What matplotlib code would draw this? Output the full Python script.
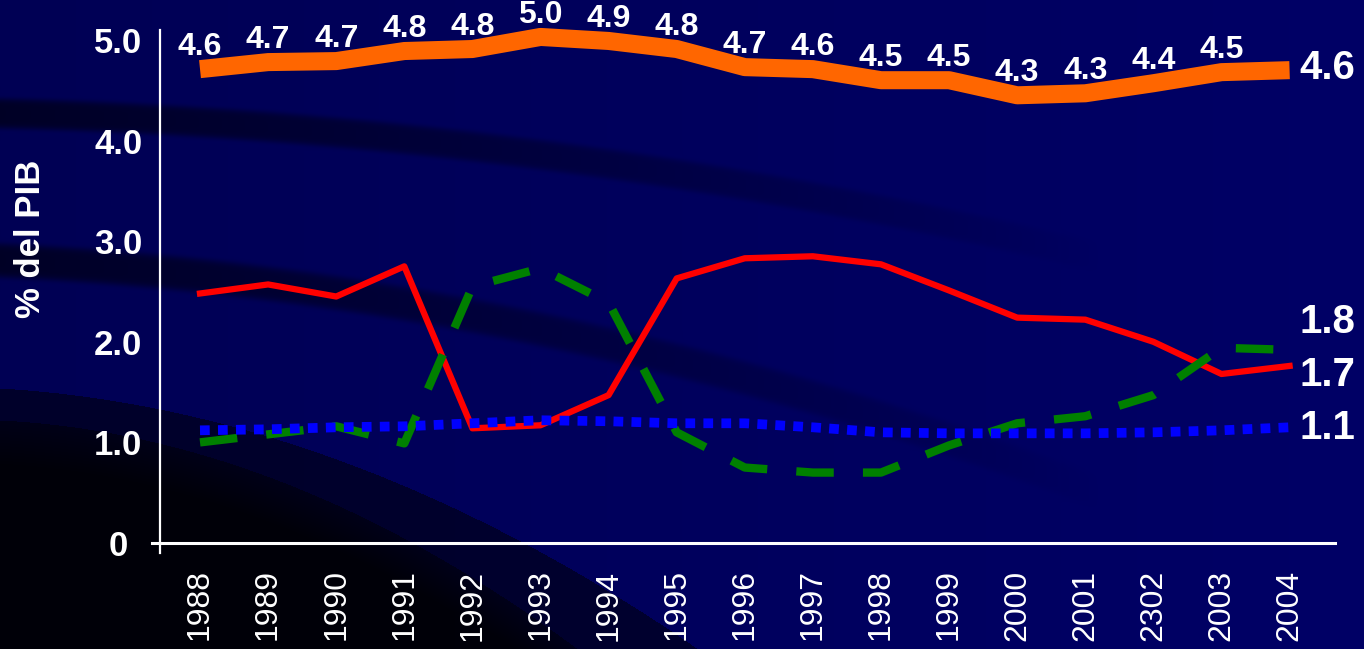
import numpy as np
import matplotlib.pyplot as plt

years = ['1988', '1989', '1990', '1991', '1992', '1993', '1994', '1995', '1996',
         '1997', '1998', '1999', '2000', '2001', '2302', '2003', '2004']

# line heights, printed labels kept apart
orange = [4.71, 4.78, 4.79, 4.89, 4.91, 5.03, 4.99, 4.91, 4.73, 4.71, 4.60, 4.60,
          4.45, 4.47, 4.57, 4.68, 4.70]
orange_labels = ['4.6', '4.7', '4.7', '4.8', '4.8', '5.0', '4.9', '4.8', '4.7', '4.6',
                 '4.5', '4.5', '4.3', '4.3', '4.4', '4.5']
red = [2.48, 2.57, 2.45, 2.75, 1.14, 1.17, 1.47, 2.63, 2.83, 2.85, 2.77, 2.51,
       2.24, 2.22, 2.00, 1.68, 1.76]
green = [1.00, 1.08, 1.16, 0.99, 2.55, 2.73, 2.39, 1.10, 0.75, 0.70, 0.70, 0.97,
         1.19, 1.26, 1.47, 1.94, 1.92]
blue = [1.12, 1.13, 1.15, 1.16, 1.19, 1.22, 1.21, 1.19, 1.19, 1.15, 1.10, 1.09,
        1.09, 1.09, 1.10, 1.12, 1.15]
end_labels = ['4.6', '1.8', '1.7', '1.1']
end_label_y = [4.72, 2.20, 1.67, 1.14]

yticks = [0, 1, 2, 3, 4, 5]
ytick_labels = ['0', '1.0', '2.0', '3.0', '4.0', '5.0']

plt.rcParams['font.family'] = ['Liberation Sans', 'DejaVu Sans']

W, H = 1364, 649
fig = plt.figure(figsize=(W / 100, H / 100), dpi=100)

# slide background: navy with darker curved bands
yy, xx = np.mgrid[0:H, 0:W].astype(float)
blue_ch = 84 + 18 * xx / W


def band(center, half, fade_end):
    d = np.exp(-((yy - center) / half) ** 6)
    return d * np.clip(1 - xx / fade_end, 0, 1) ** 0.8


dark = np.zeros_like(xx)
dark = np.maximum(dark, 0.55 * band(113 + 0.024 * xx + 0.0000973 * xx ** 2, 15, 1100))
dark = np.maximum(dark, 0.55 * band(260 + 0.0465 * xx + 0.00015 * xx ** 2, 17, 1100))
edge_a = 388 + 0.06 * xx + 0.00045 * xx ** 2
edge_b = 420 + 0.05 * xx + 0.0006 * xx ** 2
dark = np.where(yy > edge_a, np.maximum(dark, 0.5), dark)
inner = np.clip((yy - edge_b) / 250 + 0.72, 0, 0.9)
dark = np.where(yy > edge_b, np.maximum(dark, inner), dark)
img = np.zeros((H, W, 3))
img[..., 2] = blue_ch * (1 - dark) / 255

bg = fig.add_axes([0, 0, 1, 1])
bg.imshow(img, aspect='auto')
bg.axis('off')

# main chart
ax = fig.add_axes([152 / W, (H - 553) / H, (1335 - 152) / W, (553 - 30) / H])
ax.patch.set_alpha(0)
x = np.arange(len(years))

ax.plot(x, red, color='#FF0000', lw=4.5, clip_on=False, zorder=2)
ax.plot(x, green, color='#008000', lw=6, dashes=(4.5, 3.5), dash_capstyle='butt',
        clip_on=False, zorder=3)
ax.plot(x, blue, color='#0000FF', lw=7, dashes=(1.0, 0.85), dash_capstyle='butt',
        clip_on=False, zorder=4)
ax.plot(x, orange, color='#FF6600', lw=13, solid_capstyle='butt', clip_on=False, zorder=5)

for i, lab in enumerate(orange_labels):
    ax.annotate(lab, (x[i], orange[i]), xytext=(0, 16), textcoords='offset points',
                ha='center', va='center', fontsize=23, fontweight='bold', color='white',
                zorder=6)

for lab, yv in zip(end_labels, end_label_y):
    ax.text(16.15, yv, lab, ha='left', va='center', fontsize=29, fontweight='bold',
            color='white', clip_on=False)

ax.set_xlim(-0.705, 16.667)
ax.set_ylim(-0.0994, 5.099)

for s in ['top', 'right']:
    ax.spines[s].set_visible(False)
ax.spines['left'].set_position(('data', -0.587))
ax.spines['bottom'].set_position(('data', 0))
ax.spines['left'].set_color('white')
ax.spines['bottom'].set_color('white')
ax.spines['left'].set_linewidth(1.6)
ax.spines['bottom'].set_linewidth(2.2)

ax.set_xticks(x)
ax.set_xticklabels(years, rotation=90, fontsize=23, color='white')
ax.set_yticks(yticks)
ax.set_yticklabels(ytick_labels, fontsize=25, fontweight='bold', color='white')
for lbl in ax.get_yticklabels():
    lbl.set_ha('center')
ax.tick_params(axis='x', length=0, pad=19)
ax.tick_params(axis='y', length=0, pad=30)

ax.set_ylabel('% del PIB', fontsize=25, fontweight='bold', color='white', va='center')
ax.yaxis.set_label_coords(-0.103, 0.60)

fig.savefig('out.png', dpi=100)
